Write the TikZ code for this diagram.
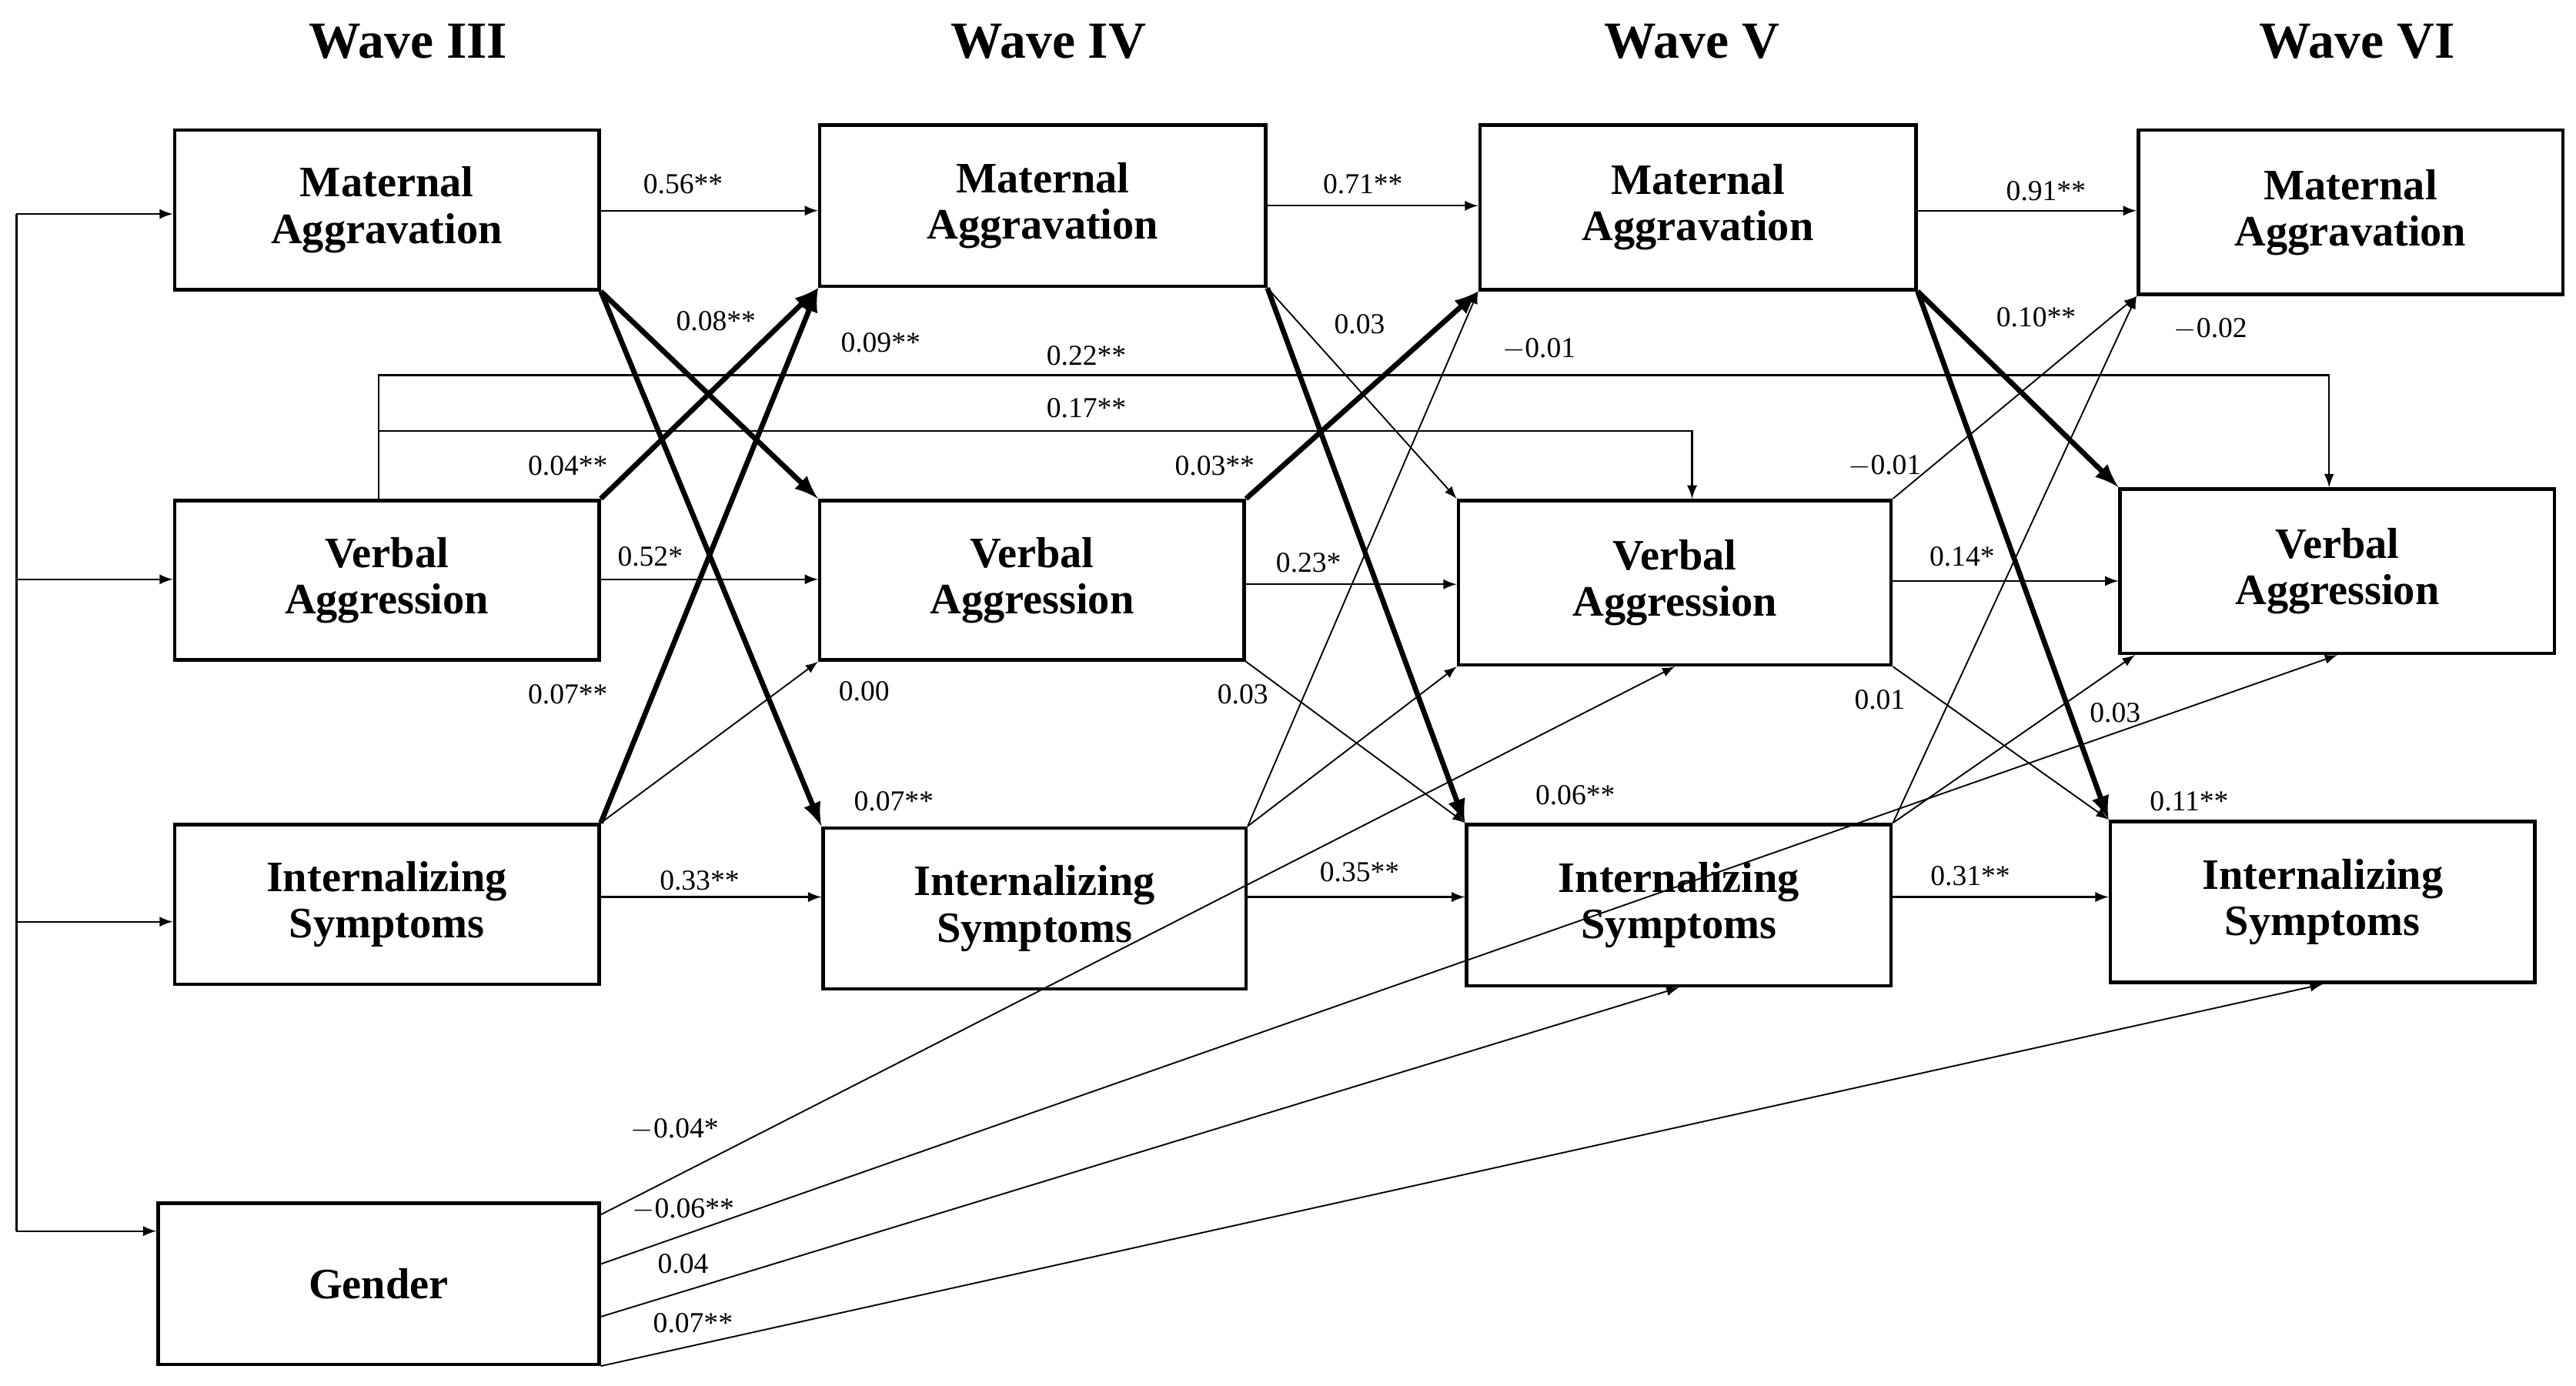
\documentclass[tikz,border=0pt]{standalone}
\usepackage{fontspec}
\setmainfont{Liberation Serif}
\usetikzlibrary{calc}
\begin{document}
\begin{tikzpicture}[x=0.02cm,y=-0.02cm,
 box/.style={draw,line width=1.2pt,font=\fontsize{15}{16}\selectfont\bfseries,align=center,inner sep=0pt},
 hd/.style={font=\fontsize{18}{20}\selectfont\bfseries},
 lb/.style={font=\fontsize{10}{11}\selectfont,inner sep=1pt},
 ar/.style={-latex,line width=0.6pt},
 thin/.style={-latex,line width=0.5pt},
 thick/.style={-latex,line width=1.8pt}]
\useasboundingbox (0,0) rectangle (1565,842);
\fill[white] (0,0) rectangle (1565,842);
\newcommand{\bx}[6]{\node[box,minimum width=#4*0.02cm-1.2pt,minimum height=#5*0.02cm-1.2pt] (#1) at (#2,#3) {#6};}
\node[hd] (h3) at (248,25) {Wave III};
\node[hd] (h4) at (637,25) {Wave IV};
\node[hd] (h5) at (1028,25) {Wave V};
\node[hd] (h6) at (1432,25) {Wave VI};
\bx{a3}{235}{127.5}{260}{99}{Maternal\\Aggravation}
\bx{v3}{235}{352.5}{260}{99}{Verbal\\Aggression}
\bx{i3}{235}{549.5}{260}{99}{Internalizing\\Symptoms}
\bx{g}{230}{780}{270}{100}{Gender}
\bx{a4}{633.5}{125}{273}{100}{Maternal\\Aggravation}
\bx{v4}{627}{352.5}{260}{99}{Verbal\\Aggression}
\bx{i4}{628.5}{552}{259}{100}{Internalizing\\Symptoms}
\bx{a5}{1031.5}{126}{267}{102}{Maternal\\Aggravation}
\bx{v5}{1017.5}{354}{265}{102}{Verbal\\Aggression}
\bx{i5}{1020}{550}{260}{100}{Internalizing\\Symptoms}
\bx{a6}{1428}{129}{260}{102}{Maternal\\Aggravation}
\bx{v6}{1420}{347}{266}{102}{Verbal\\Aggression}
\bx{i6}{1411}{548}{260}{100}{Internalizing\\Symptoms}
% left bracket
\coordinate (t) at (10,130); \coordinate (b) at (10,748);
\draw[line width=0.6pt] (t) -- (b);
\draw[ar] (t) -- (a3.west|-t);
\draw[ar] (10,352) -- (v3.west|-0,352);
\draw[ar] (10,560) -- (i3.west|-0,560);
\draw[ar] (b) -- (g.west|-b);
% autoregressive
\draw[ar] (a3.east|-0,128) -- (a4.west|-0,128);
\draw[ar] (a4.east|-0,125) -- (a5.west|-0,125);
\draw[ar] (a5.east|-0,128) -- (a6.west|-0,128);
\draw[ar] (v3.east|-0,352) -- (v4.west|-0,352);
\draw[ar] (v4.east|-0,355) -- (v5.west|-0,355);
\draw[ar] (v5.east|-0,353) -- (v6.west|-0,353);
\draw[ar] (i3.east|-0,545) -- (i4.west|-0,545);
\draw[ar] (i4.east|-0,545) -- (i5.west|-0,545);
\draw[ar] (i5.east|-0,545) -- (i6.west|-0,545);
% long paths
\draw[ar] (230,303) -- (230,228) -- (1415,228) -- (1415,296);
\draw[ar] (230,262) -- (1028,262) -- (1028,303);
% W3 -> W4
\draw[thick] (a3.south east) -- (v4.north west);
\draw[thick] (a3.south east) -- (i4.north west);
\draw[thick] (v3.north east) -- (a4.south west);
\draw[thick] (i3.north east) -- (a4.south west);
\draw[thin] (i3.north east) -- (v4.south west);
% W4 -> W5
\draw[thick] (a4.south east) -- (i5.north west);
\draw[thin] (a4.south east) -- (v5.north west);
\draw[thick] (v4.north east) -- (a5.south west);
\draw[thin] (v4.south east) -- (i5.north west);
\draw[thin] (i4.north east) -- (a5.south west);
\draw[thin] (i4.north east) -- (v5.south west);
% W5 -> W6
\draw[thick] (a5.south east) -- (v6.north west);
\draw[thick] (a5.south east) -- (i6.north west);
\draw[thin] (v5.north east) -- (a6.south west);
\draw[thin] (v5.south east) -- (i6.north west);
\draw[thin] (i5.north east) -- (a6.south west);
\draw[thin] (i5.north east) -- (1297,398);
% gender
\draw[thin] (g.east|-0,738) -- (v5.south);
\draw[thin] (g.east|-0,768) -- (v6.south);
\draw[thin] (g.east|-0,800) -- (i5.south);
\draw[thin] (g.east|-0,830) -- (i6.south);
% labels
\node[lb] (l1) at (415,112) {0.56**};
\node[lb] (l2) at (828,112) {0.71**};
\node[lb] (l3) at (1243,116) {0.91**};
\node[lb] (l4) at (395,338) {0.52*};
\node[lb] (l5) at (795,342) {0.23*};
\node[lb] (l6) at (1192,338) {0.14*};
\node[lb] (l7) at (425,535) {0.33**};
\node[lb] (l8) at (826,530) {0.35**};
\node[lb] (l9) at (1197,532) {0.31**};
\node[lb] (l10) at (435,195) {0.08**};
\node[lb] (l11) at (535,208) {0.09**};
\node[lb] (l12) at (660,216) {0.22**};
\node[lb] (l13) at (935,212) {$-$0.01};
\node[lb] (l14) at (660,248) {0.17**};
\node[lb] (l15) at (345,283) {0.04**};
\node[lb] (l16) at (345,422) {0.07**};
\node[lb] (l17) at (525,420) {0.00};
\node[lb] (l18) at (543,487) {0.07**};
\node[lb] (l19) at (826,197) {0.03};
\node[lb] (l20) at (738,283) {0.03**};
\node[lb] (l21) at (755,422) {0.03};
\node[lb] (l22) at (957,483) {0.06**};
\node[lb] (l23) at (1237,193) {0.10**};
\node[lb] (l24) at (1343,200) {$-$0.02};
\node[lb] (l25) at (1145,283) {$-$0.01};
\node[lb] (l26) at (1142,425) {0.01};
\node[lb] (l27) at (1285,433) {0.03};
\node[lb] (l28) at (1330,487) {0.11**};
\node[lb] (l29) at (410,686) {$-$0.04*};
\node[lb] (l30) at (415,735) {$-$0.06**};
\node[lb] (l31) at (415,768) {0.04};
\node[lb] (l32) at (421,804) {0.07**};
\end{tikzpicture}
\end{document}
